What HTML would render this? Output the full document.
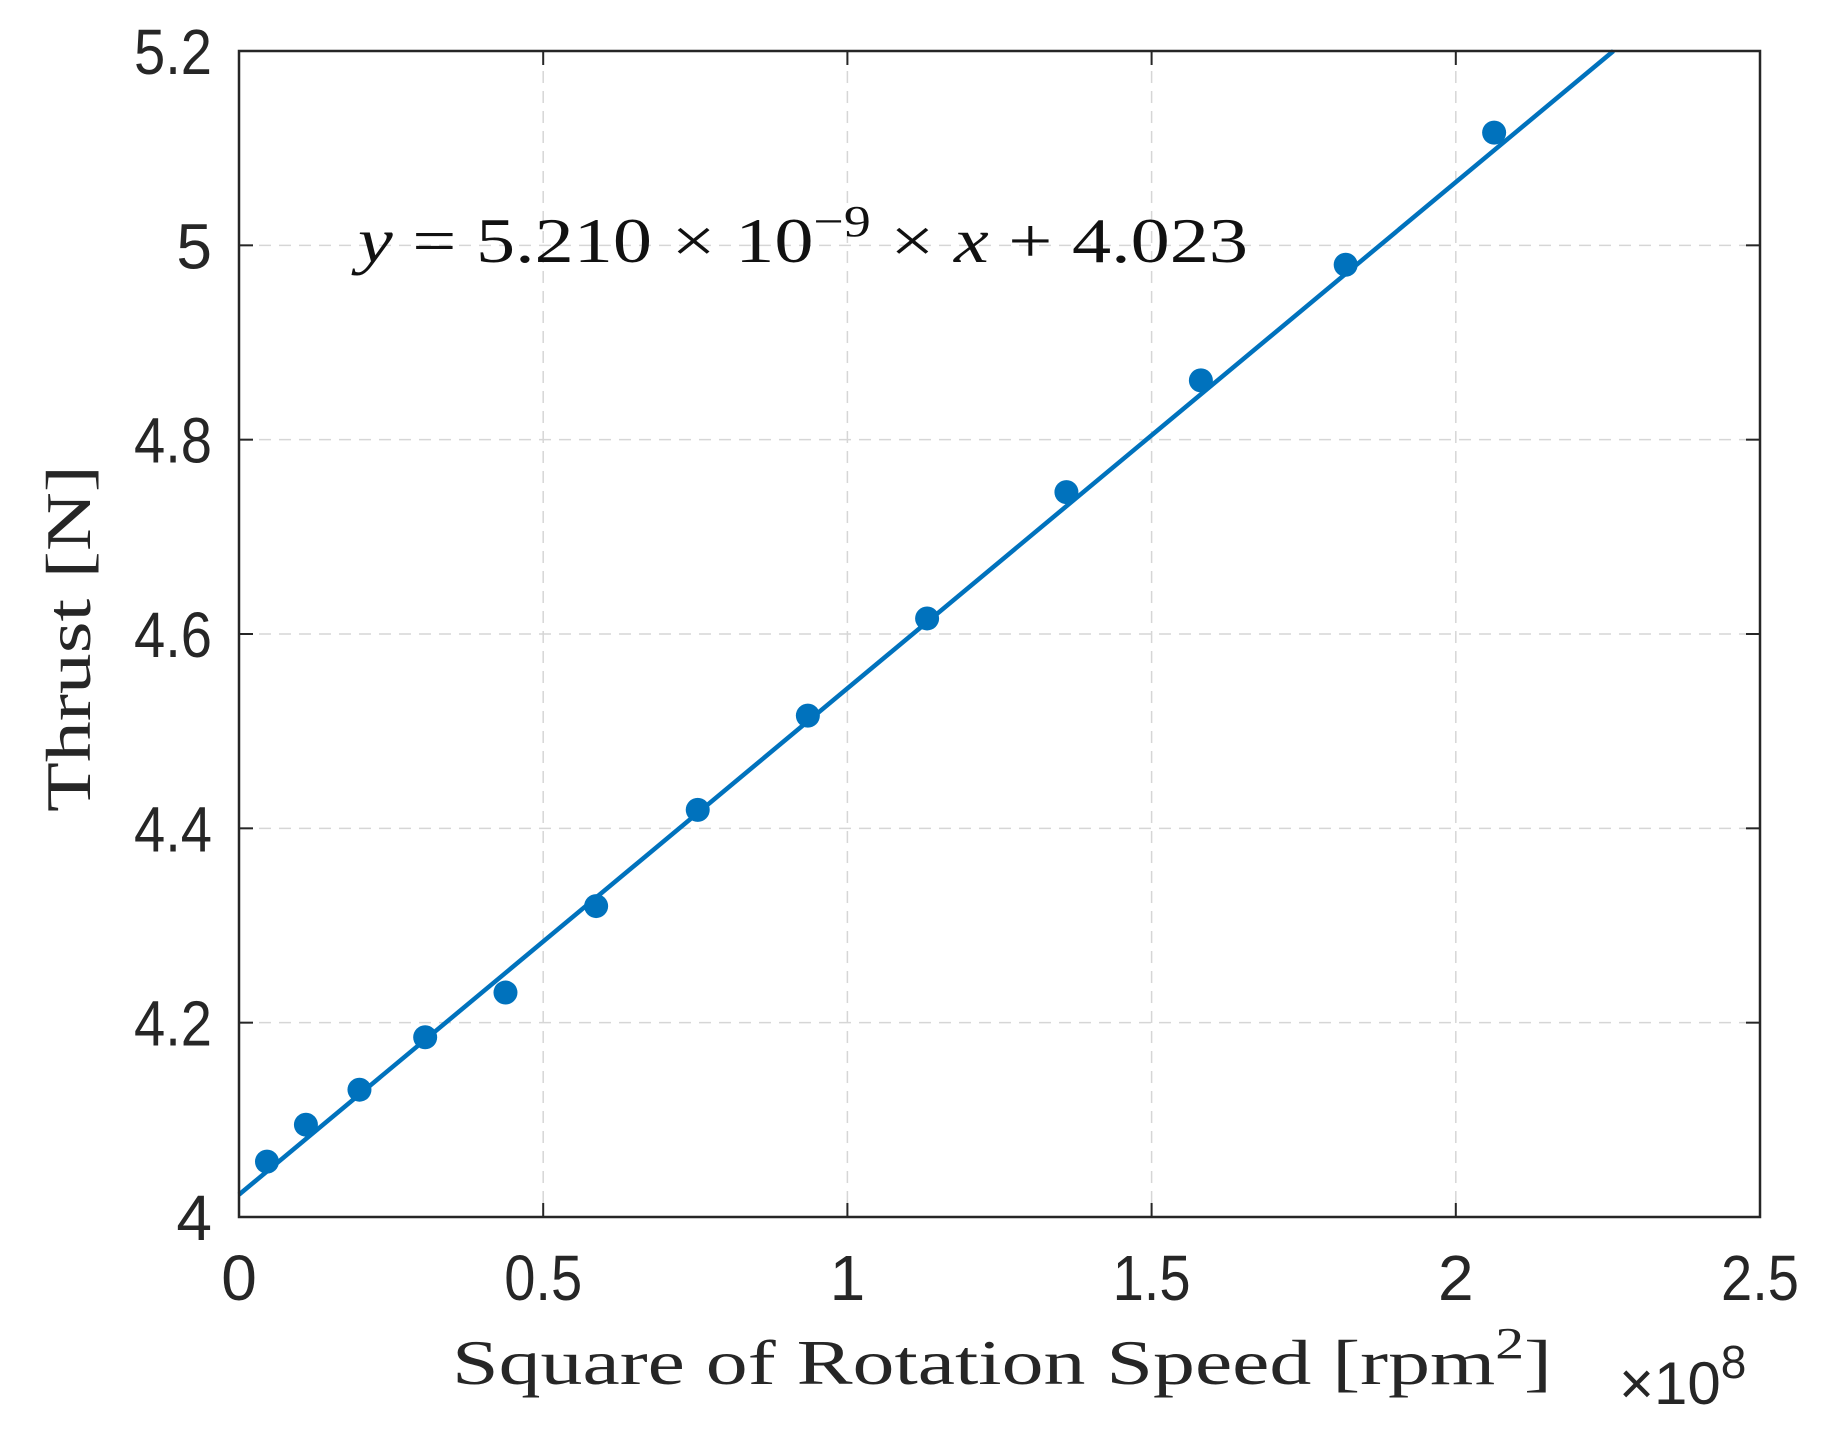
<!DOCTYPE html>
<html><head><meta charset="utf-8"><style>
html,body{margin:0;padding:0;background:#fff;}
svg{display:block;}
</style></head><body>
<svg id="chart" width="1833" height="1436" viewBox="0 0 1833 1436" xmlns="http://www.w3.org/2000/svg">
<g id="grid"></g>
<g id="ticks"></g>
<g id="series"></g>
<rect x="239" y="51" width="1521" height="1166" fill="none" stroke="#262626" stroke-width="2.5"/>
<text x="358" y="262" font-family="Liberation Serif, serif" font-size="64" fill="#111" textLength="890" lengthAdjust="spacingAndGlyphs"><tspan font-style="italic">y</tspan> = 5.210 × 10<tspan dy="-26" font-size="44">−9</tspan><tspan dy="26"> × </tspan><tspan font-style="italic">x</tspan> + 4.023</text>
<text x="452" y="1384" font-family="Liberation Serif, serif" font-size="64" fill="#262626" textLength="1100" lengthAdjust="spacingAndGlyphs">Square of Rotation Speed [rpm<tspan dy="-26" font-size="44">2</tspan><tspan dy="26">]</tspan></text>
<text transform="translate(90,812) rotate(-90)" x="0" y="0" font-family="Liberation Serif, serif" font-size="64" fill="#262626" textLength="347" lengthAdjust="spacingAndGlyphs">Thrust [N]</text>
<text x="1619" y="1404" font-family="Liberation Sans, sans-serif" font-size="60" fill="#262626">×10<tspan dy="-26" font-size="46">8</tspan></text>
</svg>
<script>
const xTicks=[0,0.5,1,1.5,2,2.5];
const xTickLabels=["0","0.5","1","1.5","2","2.5"];
const yTicks=[4,4.2,4.4,4.6,4.8,5,5.2];
const yTickLabels=["4","4.2","4.4","4.6","4.8","5","5.2"];
const pointsX=[0.046,0.11,0.198,0.306,0.438,0.587,0.754,0.935,1.131,1.36,1.581,1.819,2.063];
const pointsY=[4.057,4.095,4.131,4.185,4.231,4.32,4.419,4.516,4.616,4.746,4.861,4.98,5.116];
const fitSlope=[0.521];
const fitIntercept=[4.023];
const X0=239,X1=1760,Y0=1217,Y1=51,xMin=0,xMax=2.5,yMin=4,yMax=5.2;
const sx=v=>X0+(v-xMin)/(xMax-xMin)*(X1-X0);
const sy=v=>Y0-(v-yMin)/(yMax-yMin)*(Y0-Y1);
const NS="http://www.w3.org/2000/svg";
function mk(t,a,p){const e=document.createElementNS(NS,t);for(const k in a)e.setAttribute(k,a[k]);p.appendChild(e);return e;}
const grid=document.getElementById('grid'),ticks=document.getElementById('ticks'),series=document.getElementById('series');
function lab(s,x,y,anchor){
 const t=mk('text',{x:x,y:y,'text-anchor':anchor,'font-family':'Liberation Sans, sans-serif','font-size':64,fill:'#262626'},ticks);
 t.textContent=s;
 if(s.length>1){t.setAttribute('textLength',s.length*26);t.setAttribute('lengthAdjust','spacingAndGlyphs');}
 return t;
}
xTicks.forEach((v,i)=>{const x=sx(v);
 if(i>0&&i<xTicks.length-1){const g=mk('line',{x1:x,x2:x,y1:Y1,y2:Y0,stroke:'#d6d6d6','stroke-width':1.5,'stroke-dasharray':'12,8'},grid);
 
 }
 const tk=mk('line',{x1:x,x2:x,y1:Y0,y2:Y0-14,stroke:'#262626','stroke-width':2},ticks);
 
 
 const tk2=mk('line',{x1:x,x2:x,y1:Y1,y2:Y1+14,stroke:'#262626','stroke-width':2},ticks);
 
 
 const t=lab(xTickLabels[i],x,1300,'middle');
 
 
});
yTicks.forEach((v,i)=>{const y=sy(v);
 if(i>0&&i<yTicks.length-1){const g=mk('line',{x1:X0,x2:X1,y1:y,y2:y,stroke:'#d6d6d6','stroke-width':1.5,'stroke-dasharray':'12,8'},grid);
 
 }
 const tk=mk('line',{x1:X0,x2:X0+14,y1:y,y2:y,stroke:'#262626','stroke-width':2},ticks);
 
 
 const tk2=mk('line',{x1:X1,x2:X1-14,y1:y,y2:y,stroke:'#262626','stroke-width':2},ticks);
 
 
 const t=lab(yTickLabels[i],212,y+23,'end');
 
 
});
const xEnd=Math.min(xMax,(yMax-fitIntercept[0])/fitSlope[0]);
const fl=mk('line',{x1:sx(0),y1:sy(fitIntercept[0]),x2:sx(xEnd),y2:sy(fitIntercept[0]+fitSlope[0]*xEnd),stroke:'#0072BD','stroke-width':4.5},series);


pointsX.forEach((v,i)=>{
 const c=mk('circle',{cx:sx(v),cy:sy(pointsY[i]),r:12,fill:'#0072BD'},series);
 
 
});
</script>
</body></html>
